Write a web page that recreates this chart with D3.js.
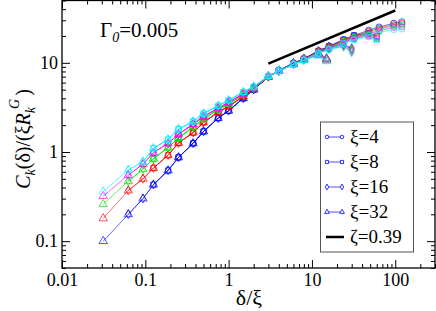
<!DOCTYPE html>
<html>
<head>
<meta charset="utf-8">
<script src="https://cdn.jsdelivr.net/npm/d3@7"></script>
<style>
	body { margin: 0; background: #fff; }
	svg text { font-family: "Liberation Serif", "Times New Roman", Times, serif !important; }
</style>
</head>
<body>
<div id="vis"></div>
<script>
// common x grid (delta/xi) and the collapsed curves, one per colour
const X_GRID = [0.03125, 0.0625, 0.09375, 0.125, 0.1875, 0.25, 0.375, 0.5, 0.75, 1, 1.5, 2, 3, 4, 6, 8, 12, 16, 24, 32, 48, 64, 96, 120];
const Y_BLUE = [0.10, 0.20, 0.30, 0.43, 0.62, 0.87, 1.25, 1.7, 2.4, 2.9, 4.0, 5.0, 7.0, 8.2, 9.9, 11.1, 13.6, 15.3, 18.2, 20.3, 23.2, 25.2, 27.8, 28.8];
const Y_RED = [0.18, 0.37, 0.50, 0.66, 0.92, 1.26, 1.65, 2.15, 2.8, 3.25, 4.2, 5.1, 6.95, 8.1, 9.8, 11.0, 13.4, 15.0, 17.8, 19.8, 22.5, 24.4, 26.8, 27.6];
const Y_GREEN = [0.26, 0.47, 0.64, 0.84, 1.12, 1.43, 1.9, 2.35, 3.0, 3.45, 4.4, 5.2, 7.0, 8.1, 9.7, 10.9, 13.2, 14.7, 17.4, 19.3, 21.9, 23.7, 26.0, 26.6];
const Y_MAGENTA = [0.32, 0.55, 0.73, 0.98, 1.25, 1.58, 2.05, 2.5, 3.1, 3.6, 4.5, 5.3, 7.05, 8.1, 9.6, 10.8, 13.0, 14.4, 17.0, 18.8, 21.2, 22.9, 25.0, 25.4];
const Y_CYAN = [0.36, 0.63, 0.78, 1.1, 1.38, 1.8, 2.2, 2.7, 3.3, 3.8, 4.7, 5.4, 7.1, 8.1, 9.6, 10.7, 12.8, 14.1, 16.5, 18.2, 20.5, 22.0, 23.6, 24.0];

const CURVES = [Y_BLUE, Y_RED, Y_GREEN, Y_MAGENTA, Y_CYAN];
const COLORS = ["#0000ff", "#ff0000", "#00e000", "#ff00ff", "#00f0ff"];

// system sizes: xi, first / last grid index, and the finite size tail
const XI = [4, 8, 16, 32];
const FIRST_INDEX = [5, 3, 1, 0];
const LAST_INDEX = [23, 19, 17, 15];
const TAIL_X = [[], [48, 60], [24, 30], [12, 15]];
// tail values, per colour (blue, red, green, magenta, cyan)
const TAIL_XI4 = [[], [], [], [], []];
const TAIL_XI8 = [[21.5, 20.0], [21.0, 19.5], [20.5, 19.0], [20.0, 18.5], [19.5, 18.0]];
const TAIL_XI16 = [[16.2, 14.6], [15.9, 14.2], [15.6, 13.8], [15.3, 13.4], [15.0, 13.0]];
const TAIL_XI32 = [[12.8, 11.2], [12.6, 11.0], [12.4, 10.8], [12.2, 10.6], [12.0, 10.4]];
const TAILS = [TAIL_XI4, TAIL_XI8, TAIL_XI16, TAIL_XI32];

const SYMBOLS = [d3.symbolCircle, d3.symbolSquare, d3.symbolDiamond, d3.symbolTriangle];
const SYMBOL_SIZES = [30, 28, 22, 30];
const LEGEND_LABELS = ["ξ=4", "ξ=8", "ξ=16", "ξ=32"];

// power law guide, zeta = 0.39
const ZETA_X = [3, 100];
const ZETA_Y = [9.8, 38.6];

const X_TICKS = [0.01, 0.1, 1, 10, 100];
const Y_TICKS = [0.1, 1, 10];
const MINOR_STEPS = [2, 3, 4, 5, 6, 7, 8, 9];

const FONT = "Liberation Serif, Times New Roman, serif";

const FRAME_WIDTH = 436;
const FRAME_HEIGHT = 311;
const MARGINS = {left: 62, right: 1, top: 0.5, bottom: 43};

const X_SCALE = d3.scaleLog()
					.domain([0.01, 300])
					.range([MARGINS.left, FRAME_WIDTH - MARGINS.right]);
const Y_SCALE = d3.scaleLog()
					.domain([0.05, 50])
					.range([FRAME_HEIGHT - MARGINS.bottom, MARGINS.top]);

const FRAME = d3.select("#vis")
				.append("svg")
					.attr("width", FRAME_WIDTH)
					.attr("height", FRAME_HEIGHT)
					.attr("font-family", FONT);

function minorTicks(majors, domain) {
	let out = [];
	majors.concat([majors[0] / 10]).forEach((m) => {
		MINOR_STEPS.forEach((s) => {
			const v = m * s;
			if (v >= domain[0] * 0.999 && v <= domain[1] * 1.001) out.push(v);
		});
	});
	return out;
}

const X_MINOR = minorTicks(X_TICKS, X_SCALE.domain());
const Y_MINOR = minorTicks(Y_TICKS.concat([100]), Y_SCALE.domain());

const BOTTOM = FRAME_HEIGHT - MARGINS.bottom;
const RIGHT = FRAME_WIDTH - MARGINS.right;

// axes, ticks pointing inwards on all four sides
function addAxis(axisFn, scale, transform, ticks, size, labels) {
	const g = FRAME.append("g")
		.attr("transform", transform)
		.call(axisFn(scale)
			.tickValues(ticks)
			.tickSizeInner(-size)
			.tickSizeOuter(0)
			.tickPadding(axisFn === d3.axisBottom ? 5 : 4)
			.tickFormat(labels ? (d) => String(d) : ""));
	g.attr("font-family", FONT);
	g.select(".domain").remove();
	g.selectAll("line").attr("stroke", "#000").attr("stroke-width", 1);
	g.selectAll("text").attr("font-size", "18px").attr("fill", "#000");
}

addAxis(d3.axisBottom, X_SCALE, "translate(0," + BOTTOM + ")", X_TICKS, 8, true);
addAxis(d3.axisBottom, X_SCALE, "translate(0," + BOTTOM + ")", X_MINOR, 4, false);
addAxis(d3.axisTop, X_SCALE, "translate(0," + MARGINS.top + ")", X_TICKS, 8, false);
addAxis(d3.axisTop, X_SCALE, "translate(0," + MARGINS.top + ")", X_MINOR, 4, false);
addAxis(d3.axisLeft, Y_SCALE, "translate(" + MARGINS.left + ",0)", Y_TICKS, 8, true);
addAxis(d3.axisLeft, Y_SCALE, "translate(" + MARGINS.left + ",0)", Y_MINOR, 4, false);
addAxis(d3.axisRight, Y_SCALE, "translate(" + RIGHT + ",0)", Y_TICKS, 8, false);
addAxis(d3.axisRight, Y_SCALE, "translate(" + RIGHT + ",0)", Y_MINOR, 4, false);

FRAME.append("rect")
	.attr("x", MARGINS.left)
	.attr("y", MARGINS.top)
	.attr("width", RIGHT - MARGINS.left)
	.attr("height", BOTTOM - MARGINS.top)
	.attr("fill", "none")
	.attr("stroke", "#000")
	.attr("stroke-width", 1.3);

// build the series
const LINE = d3.line()
				.x((d) => X_SCALE(d[0]))
				.y((d) => Y_SCALE(d[1]));

const PLOT = FRAME.append("g");

CURVES.forEach((curve, c) => {
	XI.forEach((xi, k) => {
		let pts = [];
		for (let i = FIRST_INDEX[k]; i <= LAST_INDEX[k]; i++) {
			pts.push([X_GRID[i], curve[i]]);
		}
		TAIL_X[k].forEach((tx, j) => pts.push([tx, TAILS[k][c][j]]));

		PLOT.append("path")
			.attr("d", LINE(pts))
			.attr("fill", "none")
			.attr("stroke", COLORS[c])
			.attr("stroke-width", 0.7)
			.attr("stroke-opacity", 0.85);

		PLOT.selectAll(null)
			.data(pts)
			.enter()
			.append("path")
				.attr("transform", (d) => "translate(" + X_SCALE(d[0]) + "," + Y_SCALE(d[1]) + ")")
				.attr("d", d3.symbol().type(SYMBOLS[k]).size(SYMBOL_SIZES[k]))
				.attr("fill", "none")
				.attr("stroke", COLORS[c])
				.attr("stroke-width", 0.8)
				.attr("stroke-opacity", 0.85);
	});
});

// zeta line
FRAME.append("path")
	.attr("d", LINE(ZETA_X.map((x, i) => [x, ZETA_Y[i]])))
	.attr("stroke", "#000")
	.attr("stroke-width", 2.5)
	.attr("fill", "none");

// title
const TITLE = FRAME.append("text")
	.attr("x", 100)
	.attr("y", 37)
	.attr("font-size", "21px");
TITLE.append("tspan").text("Γ");
TITLE.append("tspan").attr("font-style", "italic").attr("font-size", "14px").attr("dy", 5).text("0");
TITLE.append("tspan").attr("dy", -5).text("=0.005");

// axis titles
FRAME.append("text")
	.attr("x", 249)
	.attr("y", 305)
	.attr("text-anchor", "middle")
	.attr("font-size", "22px")
	.text("δ/ξ");

const YT = FRAME.append("text")
	.attr("transform", "translate(30,139) rotate(-90)")
	.attr("text-anchor", "middle")
	.attr("font-size", "20px");
YT.append("tspan").attr("font-style", "italic").text("C");
YT.append("tspan").attr("font-style", "italic").attr("font-size", "14px").attr("dy", 5).text("k");
YT.append("tspan").attr("dy", -5).text("(δ)/(ξ");
YT.append("tspan").attr("font-style", "italic").text("R");
YT.append("tspan").attr("font-style", "italic").attr("font-size", "14px").attr("dy", 5).text("k");
YT.append("tspan").attr("font-style", "italic").attr("font-size", "14px").attr("dy", -16).attr("dx", -2).text("G");
YT.append("tspan").attr("dy", 11).attr("dx", 3).text(")");

// legend
const LEGEND = FRAME.append("g");
LEGEND.append("rect")
	.attr("x", 320.5)
	.attr("y", 122)
	.attr("width", 93)
	.attr("height", 130)
	.attr("fill", "#fff")
	.attr("stroke", "#555")
	.attr("stroke-width", 1);

LEGEND_LABELS.forEach((label, k) => {
	const cy = 137 + k * 25;
	LEGEND.append("line")
		.attr("x1", 327).attr("x2", 342)
		.attr("y1", cy).attr("y2", cy)
		.attr("stroke", COLORS[0])
		.attr("stroke-width", 0.7);
	[327, 342].forEach((lx) => {
		LEGEND.append("path")
			.attr("transform", "translate(" + lx + "," + cy + ")")
			.attr("d", d3.symbol().type(SYMBOLS[k]).size(10))
			.attr("fill", "#fff")
			.attr("stroke", COLORS[0])
			.attr("stroke-width", 0.8);
	});
	LEGEND.append("text")
		.attr("x", 350)
		.attr("y", cy + 6)
		.attr("font-size", "19px")
		.text(label);
});

LEGEND.append("line")
	.attr("x1", 326).attr("x2", 344)
	.attr("y1", 237).attr("y2", 237)
	.attr("stroke", "#000")
	.attr("stroke-width", 2.5);
LEGEND.append("text")
	.attr("x", 350)
	.attr("y", 243)
	.attr("font-size", "19px")
	.text("ζ=0.39");
</script>
</body>
</html>
